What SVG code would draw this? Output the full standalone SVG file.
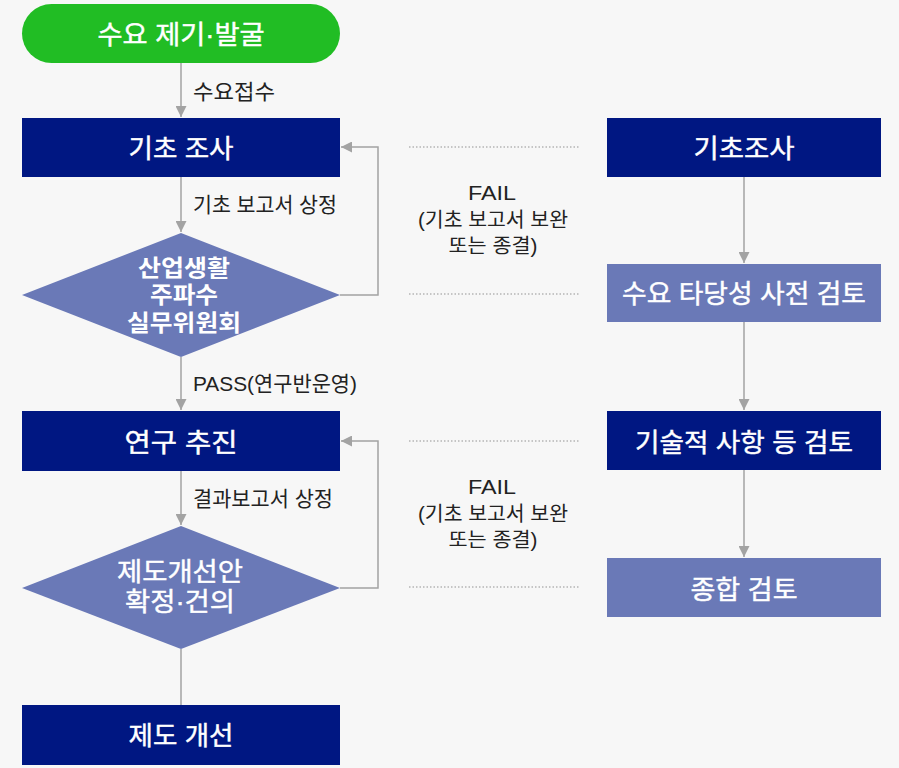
<svg xmlns="http://www.w3.org/2000/svg" width="899" height="768" viewBox="0 0 899 768">
<style>
.bg{fill:#f7f7f7}
.navy{fill:#001782}
.lite{fill:#6a79b7}
.green{fill:#21bd24}
.nt{font-family:"Liberation Sans","Noto Sans CJK KR",sans-serif;fill:#ffffff;stroke:#ffffff;stroke-width:0.45px;font-size:26px;font-weight:400;text-anchor:middle}
.dt{font-family:"Liberation Sans","Noto Sans CJK KR",sans-serif;fill:#ffffff;font-size:23px;font-weight:700;text-anchor:middle}
.lb{font-family:"Liberation Sans","Noto Sans CJK KR",sans-serif;fill:#222222;font-size:21px;font-weight:400}
.fl{font-family:"Liberation Sans","Noto Sans CJK KR",sans-serif;fill:#222222;font-size:20px;font-weight:400;text-anchor:middle}
.ln{fill:none;stroke:#a3a3a3;stroke-width:1.5}
.dot{fill:none;stroke:#b5b5b5;stroke-width:1.5;stroke-dasharray:1.5 2}
</style>
<defs>
<marker id="ah" markerUnits="userSpaceOnUse" markerWidth="11" markerHeight="11" refX="10" refY="5" orient="auto" viewBox="0 0 10 10">
<path d="M0,0 L10,5 L0,10 z" fill="#a3a3a3"/>
</marker>
</defs>
<rect class="bg" x="0" y="0" width="899" height="768"/>

<g id="connectors">
<path class="ln" d="M181,63 V117" marker-end="url(#ah)"/>
<path class="ln" d="M181,177 V232" marker-end="url(#ah)"/>
<path class="ln" d="M181,357 V410" marker-end="url(#ah)"/>
<path class="ln" d="M181,471 V525" marker-end="url(#ah)"/>
<path class="ln" d="M181,649 V705"/>
<path class="ln" d="M340,295 H378 V147 H341" marker-end="url(#ah)"/>
<path class="ln" d="M340,588 H378 V441 H341" marker-end="url(#ah)"/>
<path class="ln" d="M744,177 V263" marker-end="url(#ah)"/>
<path class="ln" d="M744,322 V410" marker-end="url(#ah)"/>
<path class="ln" d="M744,470 V557" marker-end="url(#ah)"/>
<path class="dot" d="M409,147 H580"/>
<path class="dot" d="M409,294 H580"/>
<path class="dot" d="M409,441 H580"/>
<path class="dot" d="M409,587 H580"/>
<text class="lb" x="193" y="99" textLength="82" lengthAdjust="spacingAndGlyphs">수요접수</text>
<text class="lb" x="193" y="212" textLength="144" lengthAdjust="spacingAndGlyphs">기초 보고서 상정</text>
<text class="lb" x="193" y="391" textLength="164" lengthAdjust="spacingAndGlyphs">PASS(연구반운영)</text>
<text class="lb" x="193" y="506" textLength="140" lengthAdjust="spacingAndGlyphs">결과보고서 상정</text>
<text class="fl" x="492" y="200" textLength="48" lengthAdjust="spacingAndGlyphs">FAIL</text>
<text class="fl" x="493" y="227" textLength="150" lengthAdjust="spacingAndGlyphs">(기초 보고서 보완</text>
<text class="fl" x="493" y="253" textLength="89" lengthAdjust="spacingAndGlyphs">또는 종결)</text>
<text class="fl" x="492" y="494" textLength="48" lengthAdjust="spacingAndGlyphs">FAIL</text>
<text class="fl" x="493" y="521" textLength="150" lengthAdjust="spacingAndGlyphs">(기초 보고서 보완</text>
<text class="fl" x="493" y="547" textLength="89" lengthAdjust="spacingAndGlyphs">또는 종결)</text>
</g>

<g id="start">
<rect class="green" x="22" y="4" width="318" height="59" rx="29.5"/>
<text class="nt" x="181" y="44" textLength="167" lengthAdjust="spacingAndGlyphs">수요 제기·발굴</text>
</g>
<g id="basic">
<rect class="navy" x="22" y="118" width="318" height="59"/>
<text class="nt" x="181" y="158" textLength="105" lengthAdjust="spacingAndGlyphs">기초 조사</text>
</g>
<g id="committee">
<polygon class="lite" points="22,295 181,233 340,295 181,357"/>
<text class="dt" x="184" y="276" textLength="92" lengthAdjust="spacingAndGlyphs">산업생활</text>
<text class="dt" x="184" y="303" textLength="68" lengthAdjust="spacingAndGlyphs">주파수</text>
<text class="dt" x="184" y="331" textLength="114" lengthAdjust="spacingAndGlyphs">실무위원회</text>
</g>
<g id="research">
<rect class="navy" x="22" y="411" width="318" height="60"/>
<text class="nt" x="181" y="452" textLength="113" lengthAdjust="spacingAndGlyphs">연구 추진</text>
</g>
<g id="confirm">
<polygon class="lite" points="22,588 181,526 340,588 181,649"/>
<text class="nt" x="180" y="581" textLength="126" lengthAdjust="spacingAndGlyphs">제도개선안</text>
<text class="nt" x="180" y="611" textLength="110" lengthAdjust="spacingAndGlyphs">확정·건의</text>
</g>
<g id="improve">
<rect class="navy" x="22" y="705" width="318" height="60"/>
<text class="nt" x="181" y="745" textLength="105" lengthAdjust="spacingAndGlyphs">제도 개선</text>
</g>

<g id="r-basic">
<rect class="navy" x="607" y="118" width="274" height="59"/>
<text class="nt" x="744" y="158" textLength="101" lengthAdjust="spacingAndGlyphs">기초조사</text>
</g>
<g id="r-demand">
<rect class="lite" x="607" y="264" width="274" height="58"/>
<text class="nt" x="744" y="303" textLength="244" lengthAdjust="spacingAndGlyphs">수요 타당성 사전 검토</text>
</g>
<g id="r-tech">
<rect class="navy" x="607" y="411" width="274" height="59"/>
<text class="nt" x="744" y="452" textLength="218" lengthAdjust="spacingAndGlyphs">기술적 사항 등 검토</text>
</g>
<g id="r-total">
<rect class="lite" x="607" y="558" width="274" height="59"/>
<text class="nt" x="744" y="599" textLength="107" lengthAdjust="spacingAndGlyphs">종합 검토</text>
</g>
</svg>
